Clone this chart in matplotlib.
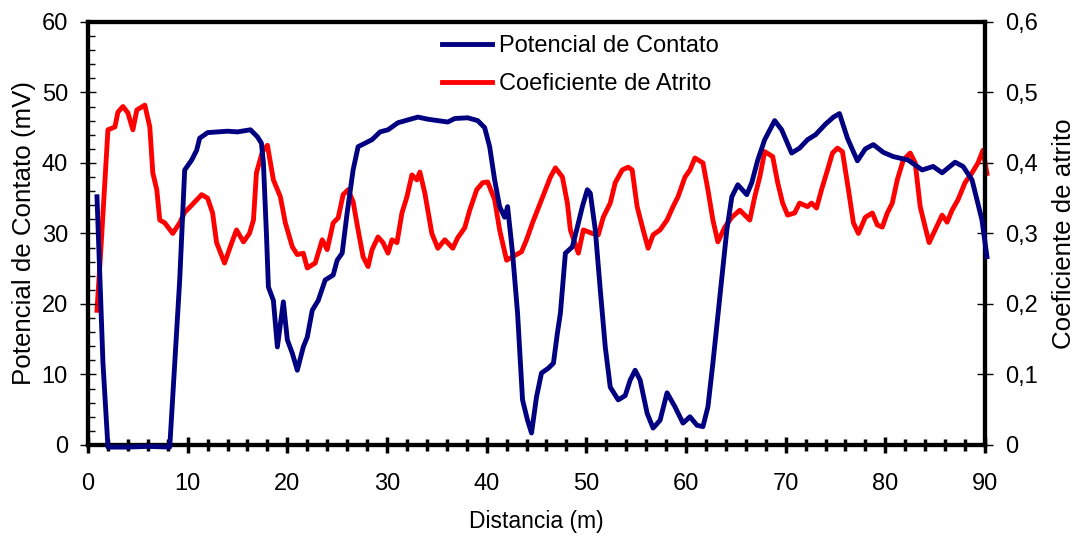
import matplotlib
matplotlib.use("Agg")
import matplotlib.pyplot as plt
from matplotlib.ticker import MultipleLocator, FuncFormatter

# Potencial de contato (mV) — eixo esquerdo
dist_pot = [0.9, 1.2, 1.5, 2.0, 4.0, 6.0, 8.2, 8.7, 9.2, 9.7, 10.4, 10.9, 11.2,
            12.0, 13.0, 14.0, 15.0, 16.3, 17.0, 17.4, 17.6, 17.9, 18.1, 18.6,
            19.0, 19.6, 20.0, 20.5, 21.0, 21.6, 22.0, 22.5, 23.1, 23.8, 24.6,
            25.0, 25.5, 26.0, 26.6, 27.1, 27.8, 28.5, 29.3, 30.1, 31.1, 32.1,
            33.1, 34.1, 35.1, 36.1, 36.8, 38.1, 39.1, 39.8, 40.3, 40.8, 41.3,
            41.8, 42.1, 42.6, 43.1, 43.6, 44.1, 44.5, 45.0, 45.5, 46.2, 46.7,
            47.1, 47.4, 47.9, 48.6, 49.1, 49.6, 50.1, 50.4, 50.9, 51.4, 51.9,
            52.4, 53.2, 53.9, 54.4, 54.9, 55.4, 56.1, 56.7, 57.4, 58.1, 58.9,
            59.7, 60.4, 61.1, 61.7, 62.2, 62.7, 63.4, 64.1, 64.6, 65.2, 66.1,
            66.6, 67.2, 67.9, 68.9, 69.6, 70.6, 71.4, 72.2, 73.0, 74.0, 74.8,
            75.4, 76.2, 77.2, 78.0, 78.8, 79.8, 80.8, 82.3, 83.7, 84.8, 85.7,
            87.0, 87.8, 88.7, 89.7, 90.2]
potencial = [35.2, 23.4, 11.6, -0.3, -0.3, -0.2, -0.3, 11.6, 23.4, 39.0, 40.4,
             41.8, 43.5, 44.3, 44.4, 44.5, 44.4, 44.7, 43.7, 42.8, 40.0, 30.0,
             22.4, 20.5, 13.9, 20.3, 14.9, 13.0, 10.6, 13.9, 15.3, 19.1, 20.5,
             23.4, 24.1, 26.2, 27.2, 32.9, 39.0, 42.3, 42.8, 43.3, 44.4, 44.7,
             45.7, 46.1, 46.5, 46.2, 46.0, 45.8, 46.3, 46.4, 46.0, 45.0, 42.3,
             37.6, 33.8, 32.3, 33.8, 27.2, 18.7, 6.4, 3.5, 1.7, 6.8, 10.2, 10.9,
             11.6, 15.9, 18.7, 27.2, 28.1, 30.9, 33.8, 36.2, 35.7, 30.5, 22.0,
             13.9, 8.2, 6.4, 7.0, 9.2, 10.6, 9.2, 4.5, 2.4, 3.5, 7.4, 5.4, 3.1,
             4.0, 2.8, 2.6, 5.4, 11.6, 21.0, 30.5, 35.2, 36.9, 35.5, 37.2, 40.4,
             43.3, 46.0, 44.7, 41.4, 42.1, 43.3, 44.0, 45.5, 46.5, 47.0, 43.5,
             40.3, 42.0, 42.6, 41.5, 40.9, 40.4, 39.0, 39.5, 38.6, 40.1, 39.5,
             37.6, 31.9, 26.7]

# Coeficiente de atrito — eixo direito
dist_atr = [0.9, 1.3, 1.7, 2.0, 2.7, 3.0, 3.5, 4.0, 4.5, 4.9, 5.7, 6.2, 6.5,
            6.9, 7.2, 7.7, 8.5, 9.2, 9.7, 10.4, 11.4, 12.0, 12.5, 12.9, 13.7,
            14.4, 14.9, 15.6, 16.2, 16.6, 16.9, 17.5, 18.0, 18.6, 19.3, 19.8,
            20.5, 21.0, 21.6, 22.0, 22.8, 23.5, 24.0, 24.6, 25.1, 25.6, 26.1,
            26.6, 27.1, 27.6, 28.1, 28.5, 29.1, 29.6, 30.1, 30.5, 31.0, 31.5,
            32.0, 32.5, 33.0, 33.3, 33.8, 34.5, 35.1, 35.8, 36.6, 37.1, 37.8,
            38.3, 39.0, 39.6, 40.1, 40.8, 41.3, 42.0, 42.6, 43.5, 44.0, 44.6,
            45.1, 45.9, 46.4, 46.9, 47.6, 48.1, 48.4, 49.2, 49.7, 50.6, 51.2,
            51.7, 52.4, 52.9, 53.6, 54.2, 54.6, 55.1, 55.7, 56.2, 56.7, 57.4,
            58.1, 58.7, 59.2, 59.9, 60.4, 60.9, 61.7, 62.2, 62.7, 63.2, 63.9,
            64.6, 65.4, 65.9, 66.4, 66.9, 67.4, 67.9, 68.7, 69.2, 69.7, 70.2,
            70.9, 71.4, 72.2, 72.6, 73.1, 73.6, 74.2, 74.7, 75.2, 75.7, 76.3,
            76.8, 77.3, 78.0, 78.7, 79.2, 79.7, 80.2, 80.7, 81.2, 81.8, 82.5,
            83.0, 83.5, 84.0, 84.4, 85.0, 85.7, 86.2, 86.7, 87.3, 88.0, 88.7,
            89.3, 89.8, 90.2]
atrito = [0.191, 0.280, 0.376, 0.447, 0.451, 0.472, 0.480, 0.471, 0.447, 0.475,
          0.482, 0.451, 0.386, 0.362, 0.319, 0.315, 0.300, 0.315, 0.330, 0.340,
          0.355, 0.350, 0.329, 0.287, 0.258, 0.286, 0.305, 0.288, 0.300, 0.319,
          0.386, 0.416, 0.425, 0.376, 0.352, 0.315, 0.281, 0.270, 0.272, 0.251,
          0.258, 0.291, 0.277, 0.315, 0.322, 0.355, 0.362, 0.345, 0.305, 0.267,
          0.253, 0.277, 0.295, 0.287, 0.272, 0.291, 0.287, 0.329, 0.352, 0.383,
          0.376, 0.387, 0.357, 0.300, 0.279, 0.291, 0.279, 0.294, 0.308, 0.333,
          0.362, 0.372, 0.373, 0.348, 0.305, 0.262, 0.267, 0.274, 0.291, 0.315,
          0.333, 0.362, 0.380, 0.393, 0.380, 0.343, 0.305, 0.272, 0.305, 0.300,
          0.298, 0.323, 0.343, 0.372, 0.390, 0.394, 0.390, 0.338, 0.305, 0.279,
          0.298, 0.305, 0.319, 0.338, 0.352, 0.380, 0.390, 0.407, 0.400, 0.362,
          0.319, 0.288, 0.309, 0.323, 0.333, 0.326, 0.319, 0.352, 0.380, 0.416,
          0.409, 0.372, 0.343, 0.326, 0.329, 0.343, 0.338, 0.343, 0.336, 0.362,
          0.390, 0.414, 0.421, 0.416, 0.362, 0.315, 0.300, 0.323, 0.329, 0.312,
          0.309, 0.329, 0.343, 0.376, 0.404, 0.414, 0.400, 0.338, 0.309, 0.287,
          0.305, 0.326, 0.316, 0.333, 0.348, 0.372, 0.386, 0.400, 0.418, 0.385]

AZUL = "#000080"
VERMELHO = "#ff0000"

plt.rcParams["font.family"] = ["Liberation Sans", "DejaVu Sans"]

fig = plt.figure(figsize=(10.76, 5.42), dpi=100)
ax = fig.add_axes([0.0818, 0.179, 0.8336, 0.7806])
ax2 = ax.twinx()

l1, = ax.plot(dist_pot, potencial, color=AZUL, linewidth=3.5, zorder=3,
              clip_on=False, label="Potencial de Contato")
l2, = ax2.plot(dist_atr, atrito, color=VERMELHO, linewidth=3.5, zorder=3,
               clip_on=False, label="Coeficiente de Atrito")
ax.set_zorder(ax2.get_zorder() + 1)
ax.patch.set_visible(False)

ax.set_xlim(0, 90)
ax.set_ylim(0, 60)
ax2.set_ylim(0, 0.6)

ax.xaxis.set_major_locator(MultipleLocator(10))
ax.xaxis.set_minor_locator(MultipleLocator(2))
ax.yaxis.set_major_locator(MultipleLocator(10))
ax.yaxis.set_minor_locator(MultipleLocator(2))
ax2.yaxis.set_major_locator(MultipleLocator(0.1))
ax2.yaxis.set_major_formatter(
    FuncFormatter(lambda v, _: "0" if abs(v) < 1e-9 else f"{v:.1f}".replace(".", ",")))

ax.tick_params(axis="x", which="major", direction="inout", length=12,
               width=2.5, labelsize=17, pad=14)
ax.tick_params(axis="x", which="minor", direction="inout", length=9, width=2.5)
ax.tick_params(axis="y", which="major", direction="inout", length=11,
               width=1, labelsize=17, pad=9)
ax.tick_params(axis="y", which="minor", direction="in", length=5, width=1)
ax2.tick_params(axis="y", which="major", direction="inout", length=11,
                width=1, labelsize=17, pad=9)

for a in (ax, ax2):
    for lado in a.spines.values():
        lado.set_linewidth(3)

ax.set_xlabel("Distancia (m)", fontsize=16.5, labelpad=11)
ax.set_ylabel("Potencial de Contato (mV)", fontsize=18.6, labelpad=4)
ax2.set_ylabel("Coeficiente de atrito", fontsize=18.6, labelpad=10)

fig.legend([l1, l2], [l1.get_label(), l2.get_label()], loc="upper left",
           bbox_to_anchor=(0.391, 0.974), frameon=False, fontsize=17,
           handlelength=2.1, handletextpad=0.3, labelspacing=0.66)

fig.savefig("out.png", dpi=100)
